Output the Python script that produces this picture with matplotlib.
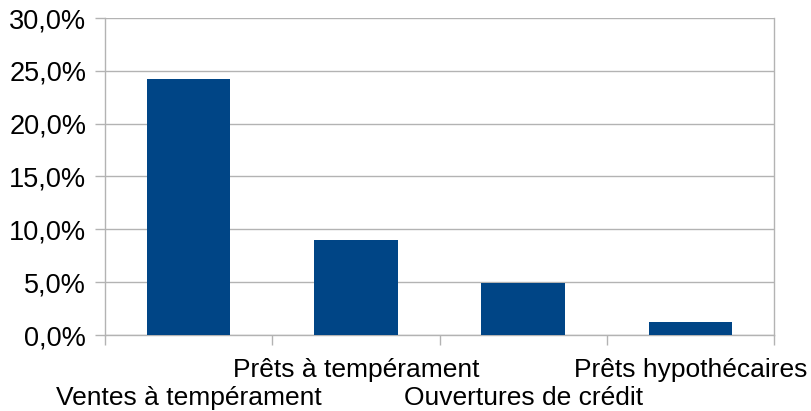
import matplotlib
matplotlib.use("Agg")
import matplotlib.pyplot as plt
import matplotlib.transforms as mtransforms
from matplotlib.ticker import FuncFormatter, MultipleLocator

categories = ["Ventes à tempérament", "Prêts à tempérament",
              "Ouvertures de crédit", "Prêts hypothécaires"]
values = [24.2, 9.0, 4.9, 1.2]

bar_color = "#004586"
grid_color = "#b3b3b3"

plt.rcParams["font.family"] = ["Liberation Sans", "DejaVu Sans"]

fig = plt.figure(figsize=(8.11, 4.11), dpi=100)
ax = fig.add_axes([105 / 811, 76 / 411, (774 - 105) / 811, (335 - 18) / 411])

x = list(range(len(categories)))
ax.bar(x, values, width=0.5, color=bar_color, zorder=3)

ax.set_xlim(-0.5, len(categories) - 0.5)
ax.set_ylim(0, 30)

ax.yaxis.set_major_locator(MultipleLocator(5))
ax.yaxis.set_major_formatter(FuncFormatter(lambda v, p: f"{v:.1f}".replace(".", ",") + "%"))
ax.grid(axis="y", color=grid_color, linewidth=1, zorder=0)

ax.set_xticks([i - 0.5 for i in range(len(categories) + 1)])
ax.set_xticklabels([])

ax.tick_params(axis="both", color=grid_color, width=1, length=7.5,
               labelsize=19.5, labelcolor="black")
ax.tick_params(axis="y", pad=6)

for side in ("left", "bottom", "right"):
    ax.spines[side].set_color(grid_color)
    ax.spines[side].set_linewidth(1)
ax.spines["top"].set_visible(False)

# Staggered category labels below the axis
trans = mtransforms.blended_transform_factory(ax.transData, fig.transFigure)
for i, name in enumerate(categories):
    y_base = (411 - 405) / 411 if i % 2 == 0 else (411 - 377) / 411
    ax.text(i, y_base, name, transform=trans, ha="center", va="baseline",
            fontsize=19, color="black", clip_on=False)

fig.savefig("out.png", dpi=100, facecolor="white")
